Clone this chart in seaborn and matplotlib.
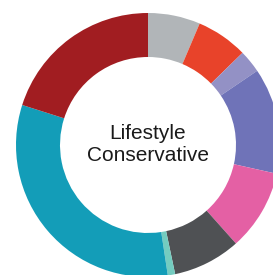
import matplotlib
matplotlib.use('Agg')
import matplotlib.pyplot as plt
import seaborn as sns

# share of each segment, clockwise from 12 o'clock
segments = ['Gray', 'Orange', 'Lavender', 'Purple', 'Pink', 'Charcoal', 'Mint', 'Teal', 'Crimson']
shares = [6.4, 6.3, 2.8, 13.0, 9.9, 8.3, 0.9, 32.3, 20.1]
colors = ['#b1b5b8', '#e8432a', '#9391c5', '#6f73b8', '#e460a4',
          '#4f5154', '#74ccc0', '#139db8', '#a11d21']
center_label = 'Lifestyle\nConservative'

sns.set_theme(style='white')
plt.rcParams['font.family'] = ['Liberation Sans', 'DejaVu Sans']

fig = plt.figure(figsize=(2.73, 2.75), dpi=100)
ax = fig.add_axes([0, 0, 1, 1])

ax.pie(shares, colors=sns.color_palette(colors), startangle=90, counterclock=False,
       center=(148, 130), radius=132, frame=True,
       wedgeprops=dict(width=44, linewidth=0))
ax.text(148, 130.5, center_label, ha='center', va='center', fontsize=15,
        color='#1a1a1a', linespacing=1.2)

ax.set_xlim(0, 273)
ax.set_ylim(0, 275)
ax.set_aspect('equal')
ax.axis('off')

fig.savefig('out.png', dpi=100, facecolor='white')
